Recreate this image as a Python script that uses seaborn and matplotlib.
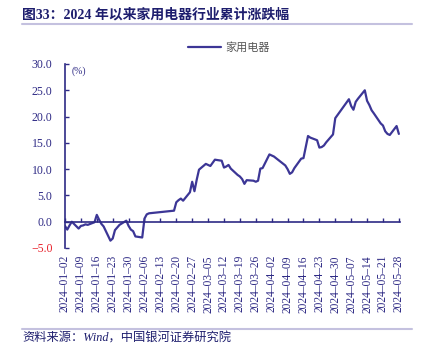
import matplotlib
matplotlib.use("Agg")
import matplotlib.pyplot as plt
import seaborn as sns
import pandas as pd
from matplotlib.lines import Line2D

# ---------------- data ----------------
dates = [
    "2024-01-02", "2024-01-03", "2024-01-04", "2024-01-05", "2024-01-08", "2024-01-09",
    "2024-01-10", "2024-01-11", "2024-01-12", "2024-01-15", "2024-01-16", "2024-01-17",
    "2024-01-18", "2024-01-19", "2024-01-22", "2024-01-23", "2024-01-24", "2024-01-25",
    "2024-01-26", "2024-01-29", "2024-01-30", "2024-01-31", "2024-02-01", "2024-02-02",
    "2024-02-05", "2024-02-06", "2024-02-07", "2024-02-08", "2024-02-19", "2024-02-20",
    "2024-02-21", "2024-02-22", "2024-02-23", "2024-02-26", "2024-02-27", "2024-02-28",
    "2024-02-29", "2024-03-01", "2024-03-04", "2024-03-05", "2024-03-06", "2024-03-07",
    "2024-03-08", "2024-03-11", "2024-03-12", "2024-03-13", "2024-03-14", "2024-03-15",
    "2024-03-18", "2024-03-19", "2024-03-20", "2024-03-21", "2024-03-22", "2024-03-25",
    "2024-03-26", "2024-03-27", "2024-03-28", "2024-03-29", "2024-04-01", "2024-04-02",
    "2024-04-03", "2024-04-08", "2024-04-09", "2024-04-10", "2024-04-11", "2024-04-12",
    "2024-04-15", "2024-04-16", "2024-04-17", "2024-04-18", "2024-04-19", "2024-04-22",
    "2024-04-23", "2024-04-24", "2024-04-25", "2024-04-26", "2024-04-29", "2024-04-30",
    "2024-05-06", "2024-05-07", "2024-05-08", "2024-05-09", "2024-05-10", "2024-05-13",
    "2024-05-14", "2024-05-15", "2024-05-16", "2024-05-17", "2024-05-20", "2024-05-21",
    "2024-05-22", "2024-05-23", "2024-05-24", "2024-05-27", "2024-05-28",
]
appliance_pct = [
    -0.8, -1.5, -0.7, 0.0, -1.3, -0.8,
    -0.7, -0.5, -0.6, -0.1, 1.3, 0.4,
    -0.4, -0.9, -3.6, -3.2, -1.6, -1.1,
    -0.6, 0.2, -0.8, -1.5, -1.8, -2.8,
    -3.0, 0.6, 1.4, 1.6, 2.1, 3.7,
    4.1, 4.4, 4.0, 5.6, 7.6, 5.8,
    8.0, 9.9, 11.0, 10.8, 10.6, 11.2,
    11.8, 11.6, 10.3, 10.5, 10.8, 10.1,
    8.9, 8.6, 8.1, 7.2, 7.9, 7.8,
    7.6, 7.8, 10.1, 10.2, 12.8, 12.6,
    12.4, 10.7, 10.0, 9.1, 9.4, 10.2,
    12.0, 12.1, 14.2, 16.3, 16.0, 15.5,
    14.1, 14.2, 14.5, 15.1, 16.6, 19.7,
    23.3, 22.0, 21.3, 22.8, 23.4, 25.0,
    23.0, 22.2, 21.2, 20.6, 18.7, 18.3,
    17.2, 16.7, 16.5, 18.2, 16.7,
]
series_name = "家用电器"
x_tick_labels = [
    "2024-01-02", "2024-01-09", "2024-01-16", "2024-01-23", "2024-01-30",
    "2024-02-06", "2024-02-13", "2024-02-20", "2024-02-27", "2024-03-05",
    "2024-03-12", "2024-03-19", "2024-03-26", "2024-04-02", "2024-04-09",
    "2024-04-16", "2024-04-23", "2024-04-30", "2024-05-07", "2024-05-14",
    "2024-05-21", "2024-05-28",
]
y_ticks = [-5.0, 0.0, 5.0, 10.0, 15.0, 20.0, 25.0, 30.0]
title_text = "图33：2024 年以来家用电器行业累计涨跌幅"
source_text = "资料来源：Wind，中国银河证券研究院"
unit_text = "(%)"

# ---------------- style ----------------
sns.set_theme(style="white")
plt.rcParams["font.family"] = ["Liberation Serif", "Noto Sans CJK SC", "DejaVu Sans"]
plt.rcParams["axes.unicode_minus"] = False

NAVY = "#2E2A85"
LINE = "#3C3696"
RULE = "#C4C1DF"

df = pd.DataFrame({"date": pd.to_datetime(dates), "value": appliance_pct})

W, H = 430, 347
fig = plt.figure(figsize=(W / 100, H / 100), dpi=100)
ax = fig.add_axes([65 / W, (H - 248) / H, (400 - 65) / W, (248 - 64) / H])

sns.lineplot(data=df, x="date", y="value", ax=ax, color=LINE, linewidth=1.6,
             legend=False)

ax.set_xlim(pd.Timestamp(x_tick_labels[0]), pd.Timestamp(x_tick_labels[-1]) + pd.Timedelta(hours=12))
ax.set_ylim(y_ticks[0], y_ticks[-1])
ax.set_xlabel("")
ax.set_ylabel("")

# spines
for s in ["top", "right"]:
    ax.spines[s].set_visible(False)
ax.spines["left"].set_color(NAVY)
ax.spines["left"].set_linewidth(1.2)
ax.spines["bottom"].set_position(("data", 0))
ax.spines["bottom"].set_color(NAVY)
ax.spines["bottom"].set_linewidth(1.2)

# y ticks
ax.set_yticks(y_ticks)
ax.set_yticklabels([f"{v:.1f}".replace("-", "\u2212") for v in y_ticks])
ax.tick_params(axis="y", direction="in", length=3, width=1.0, color=NAVY,
               labelsize=8.5, labelcolor=NAVY, pad=9, left=True)
for lab, v in zip(ax.get_yticklabels(), y_ticks):
    if v < 0:
        lab.set_color("#E8202A")

# x ticks
ax.set_xticks(pd.to_datetime(x_tick_labels))
ax.set_xticklabels([s.replace("-", "\u2013") for s in x_tick_labels],
                   rotation=90, va="top", ha="center")
ax.tick_params(axis="x", direction="in", length=3, width=1.0, color=NAVY,
               labelsize=8.3, labelcolor=NAVY, pad=24, bottom=True)

# unit label
ax.text(0.02, 0.985, unit_text, transform=ax.transAxes, fontsize=7,
        color=NAVY, va="top", ha="left")

# legend
handle = Line2D([], [], color=LINE, linewidth=1.6)
leg = ax.legend([handle], [series_name], loc="center",
                bbox_to_anchor=((229 - 65) / (400 - 65), 1 + 17 / 184),
                frameon=False, handlelength=2.9, handletextpad=0.4,
                prop={"family": ["Noto Sans CJK SC"], "size": 8})
for t in leg.get_texts():
    t.set_color("#555555")

# title and rules
fig.text(22 / W, 1 - 15 / H, title_text, fontsize=10, fontweight="bold",
         color="#1E1E6E", ha="left", va="center",
         family=["Liberation Serif", "Noto Sans CJK SC"])
fig.add_artist(Line2D([22 / W, 412 / W], [1 - 24 / H, 1 - 24 / H],
                      color=RULE, linewidth=1.5, transform=fig.transFigure))
fig.add_artist(Line2D([22 / W, 412 / W], [1 - 329 / H, 1 - 329 / H],
                      color=RULE, linewidth=1.5, transform=fig.transFigure))
fig.text(22 / W, 1 - 339 / H, source_text, fontsize=8.8, style="italic",
         color="#1E1E6E", ha="left", va="center",
         family=["Liberation Serif", "Noto Sans CJK SC"])

fig.savefig("out.png", dpi=100)
